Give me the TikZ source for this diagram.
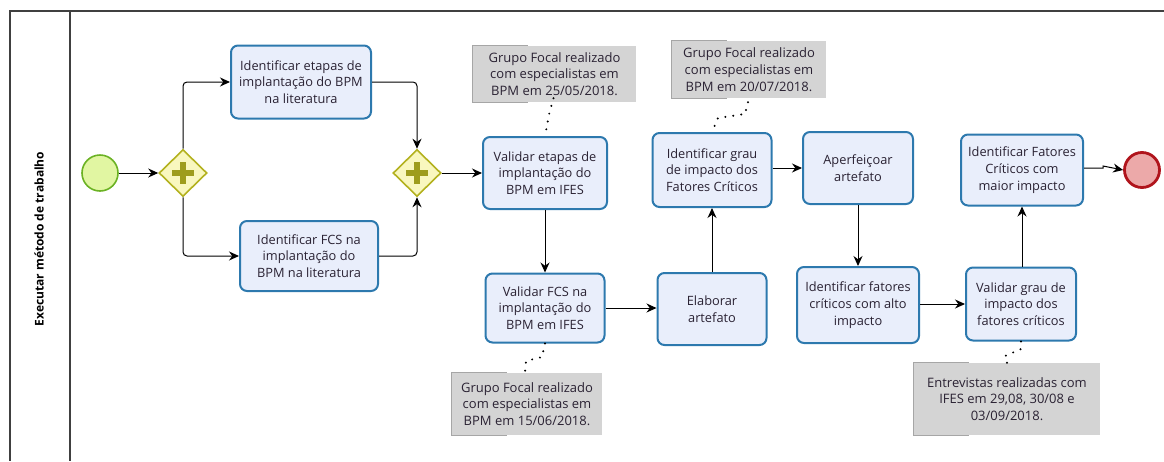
\documentclass[tikz,border=0pt]{standalone}
\usepackage{fontspec}
\setmainfont{Open Sans}
\usetikzlibrary{arrows.meta,shapes.geometric}
\definecolor{taskfill}{HTML}{E9EEFB}
\definecolor{taskline}{HTML}{2D79AE}
\definecolor{txt}{HTML}{2A2233}
\definecolor{annfill}{HTML}{D4D4D4}
\definecolor{annline}{HTML}{A6A6A6}
\definecolor{gwfill}{HTML}{F9F7BE}
\definecolor{gwline}{HTML}{B3B11E}
\definecolor{gwplus}{HTML}{9E9C1C}
\definecolor{stfill}{HTML}{E1F6A2}
\definecolor{stline}{HTML}{6BB224}
\definecolor{endfill}{HTML}{ECA9A9}
\definecolor{endline}{HTML}{B0141C}
\begin{document}
\begin{tikzpicture}[x=1pt,y=-1pt,
  task/.style={draw=taskline,fill=taskfill,line width=2pt,rounded corners=7pt,
    text=txt,align=center,font=\fontsize{12.8}{16.7}\selectfont,inner sep=0pt},
  ann/.style={fill=annfill,text=txt,align=center,inner sep=0pt,
    font=\fontsize{13}{16.7}\selectfont},
  gw/.style={diamond,draw=gwline,fill=gwfill,line width=1.6pt,minimum width=48pt,minimum height=47pt,inner sep=0pt},
  flow/.style={draw=black,line width=1pt,-{Stealth[length=10pt,width=9pt]},rounded corners=4pt},
  assoc/.style={draw=black,line width=2.2pt,dash pattern=on 0pt off 8pt,line cap=round},
  pool/.style={draw=black!75,line width=1.4pt}]
\useasboundingbox (0,0) rectangle (1164,461);
% pool
\draw[pool] (1164,11) -- (10,11) -- (10,461);
\draw[pool] (70,11) -- (70,461);
\node[rotate=90,font=\bfseries\fontsize{12}{14}\selectfont,text=black] (lane) at (39,239) {Executar método de trabalho};
% events
\node[circle,draw=stline,fill=stfill,line width=1.6pt,minimum size=36pt,inner sep=0pt] (start) at (100,173) {};
\node[circle,draw=endline,fill=endfill,line width=2.8pt,minimum size=35pt,inner sep=0pt] (end) at (1142,170) {};
% gateways
\node[gw] (g1) at (183,173) {};
\node[gw] (g2) at (417,173) {};
\foreach \g in {g1,g2}{
  \fill[gwplus] ([xshift=-11pt,yshift=-3pt]\g.center) rectangle ([xshift=11pt,yshift=3pt]\g.center);
  \fill[gwplus] ([xshift=-3pt,yshift=-11pt]\g.center) rectangle ([xshift=3pt,yshift=11pt]\g.center);
}
% tasks
\node[task,minimum width=140pt,minimum height=73pt] (tA) at (301,82) {Identificar etapas de\\implantação do BPM\\na literatura};
\node[task,minimum width=138pt,minimum height=70pt] (tB) at (309,256) {Identificar FCS na\\implantação do\\BPM na literatura};
\node[task,minimum width=124pt,minimum height=72pt] (tC) at (545,173) {Validar etapas de\\implantação do\\BPM em IFES};
\node[task,minimum width=119pt,minimum height=69pt] (tD) at (545,308) {Validar FCS na\\implantação do\\BPM em IFES};
\node[task,minimum width=109pt,minimum height=72pt] (tE) at (712,309) {Elaborar\\artefato};
\node[task,minimum width=119pt,minimum height=74pt] (tF) at (712,170) {Identificar grau\\de impacto dos\\Fatores Críticos};
\node[task,minimum width=110pt,minimum height=72pt] (tG) at (858,168) {Aperfeiçoar\\artefato};
\node[task,minimum width=122pt,minimum height=76pt] (tH) at (858,305) {Identificar fatores\\críticos com alto\\impacto};
\node[task,minimum width=110pt,minimum height=73pt] (tI) at (1021,304) {Validar grau de\\impacto dos\\fatores críticos};
\node[task,minimum width=122pt,minimum height=71pt] (tJ) at (1022,170) {Identificar Fatores\\Críticos com\\maior impacto};
% annotations
\node[ann,minimum width=163pt,minimum height=56pt] (a1) at (554.5,74) {Grupo Focal realizado\\com especialistas em\\BPM em 25/05/2018.};
\node[ann,minimum width=154pt,minimum height=57pt] (a2) at (749,69.5) {Grupo Focal realizado\\com especialistas em\\BPM em 20/07/2018.};
\node[ann,minimum width=150pt,minimum height=62pt] (a3) at (527,404) {Grupo Focal realizado\\com especialistas em\\BPM em 15/06/2018.};
\node[ann,minimum width=186pt,minimum height=72pt] (a4) at (1007,399) {Entrevistas realizadas com\\IFES em 29,08, 30/08 e\\03/09/2018.};
\foreach \a in {a1,a2,a3,a4}{
  \draw[annline,line width=1pt] ([xshift=55pt]\a.north west) -- (\a.north west) -- (\a.south west) -- ([xshift=55pt]\a.south west);
}
% flows
\draw[flow] (start) -- (g1);
\draw[flow] (g1.north) |- (tA);
\draw[flow] (g1.south) |- (tB);
\draw[flow] (tA) -| (g2.north);
\draw[flow] (tB) -| (g2.south);
\draw[flow] (g2) -- (tC);
\draw[flow] (tC) -- (tD);
\draw[flow] (tD) -- (tD -| tE.west);
\draw[flow] (tE) -- (tF);
\draw[flow] (tF.east |- tG) -- (tG);
\draw[flow] (tG) -- (tH);
\draw[flow] (tH.east |- tI) -- (tI);
\draw[flow] (tI.north -| tJ) -- (tJ);
\coordinate (jog) at (1103,168);
\draw[flow,rounded corners=0pt] (tJ.east |- jog) -- (jog) -- ([yshift=2pt]jog) -- (end.west);
% associations
\draw[assoc] ([xshift=-1pt,yshift=4pt]a1.south) -- ++(-4,14) -- (tC.north);
\draw[assoc] (a2.south) ++(-1,4) -- (745,114) -- (718,118) -- (tF.north);
\draw[assoc] (tD.south) -- (542,357) -- (526,361) -- ([xshift=-2pt]a3.north);
\draw[assoc] (tI.south) -- (1021,349) -- (1005,356) -- (a4.north);
\end{tikzpicture}
\end{document}
